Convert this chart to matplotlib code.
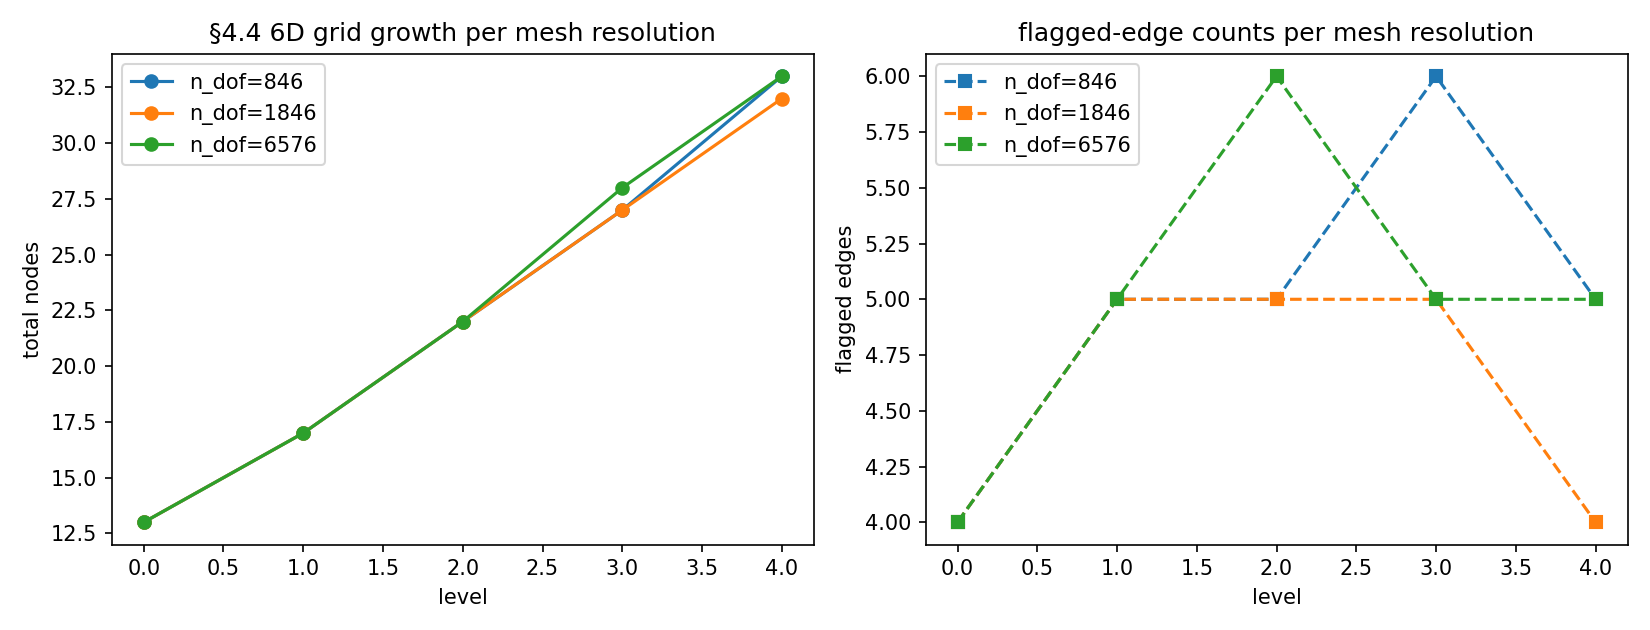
import numpy as np
import matplotlib
matplotlib.use("Agg")
import matplotlib.pyplot as plt

levels = [0, 1, 2, 3, 4]
dof_labels = ["n_dof=846", "n_dof=1846", "n_dof=6576"]

# total nodes per level
nodes_846 = [13, 17, 22, 27, 33]
nodes_1846 = [13, 17, 22, 27, 32]
nodes_6576 = [13, 17, 22, 28, 33]

# flagged edges per level
edges_846 = [4, 5, 5, 6, 5]
edges_1846 = [4, 5, 5, 5, 4]
edges_6576 = [4, 5, 6, 5, 5]

fig, (ax1, ax2) = plt.subplots(1, 2, figsize=(11, 4.2), dpi=150)

for vals, lab in zip([nodes_846, nodes_1846, nodes_6576], dof_labels):
    ax1.plot(levels, vals, marker='o', label=lab)
ax1.set_title('§4.4 6D grid growth per mesh resolution')
ax1.set_xlabel('level')
ax1.set_ylabel('total nodes')
ax1.legend(loc='upper left')

for vals, lab in zip([edges_846, edges_1846, edges_6576], dof_labels):
    ax2.plot(levels, vals, marker='s', linestyle='--', label=lab)
ax2.set_title('flagged-edge counts per mesh resolution')
ax2.set_xlabel('level')
ax2.set_ylabel('flagged edges')
ax2.legend(loc='upper left')

plt.tight_layout()
plt.savefig('out.png')
